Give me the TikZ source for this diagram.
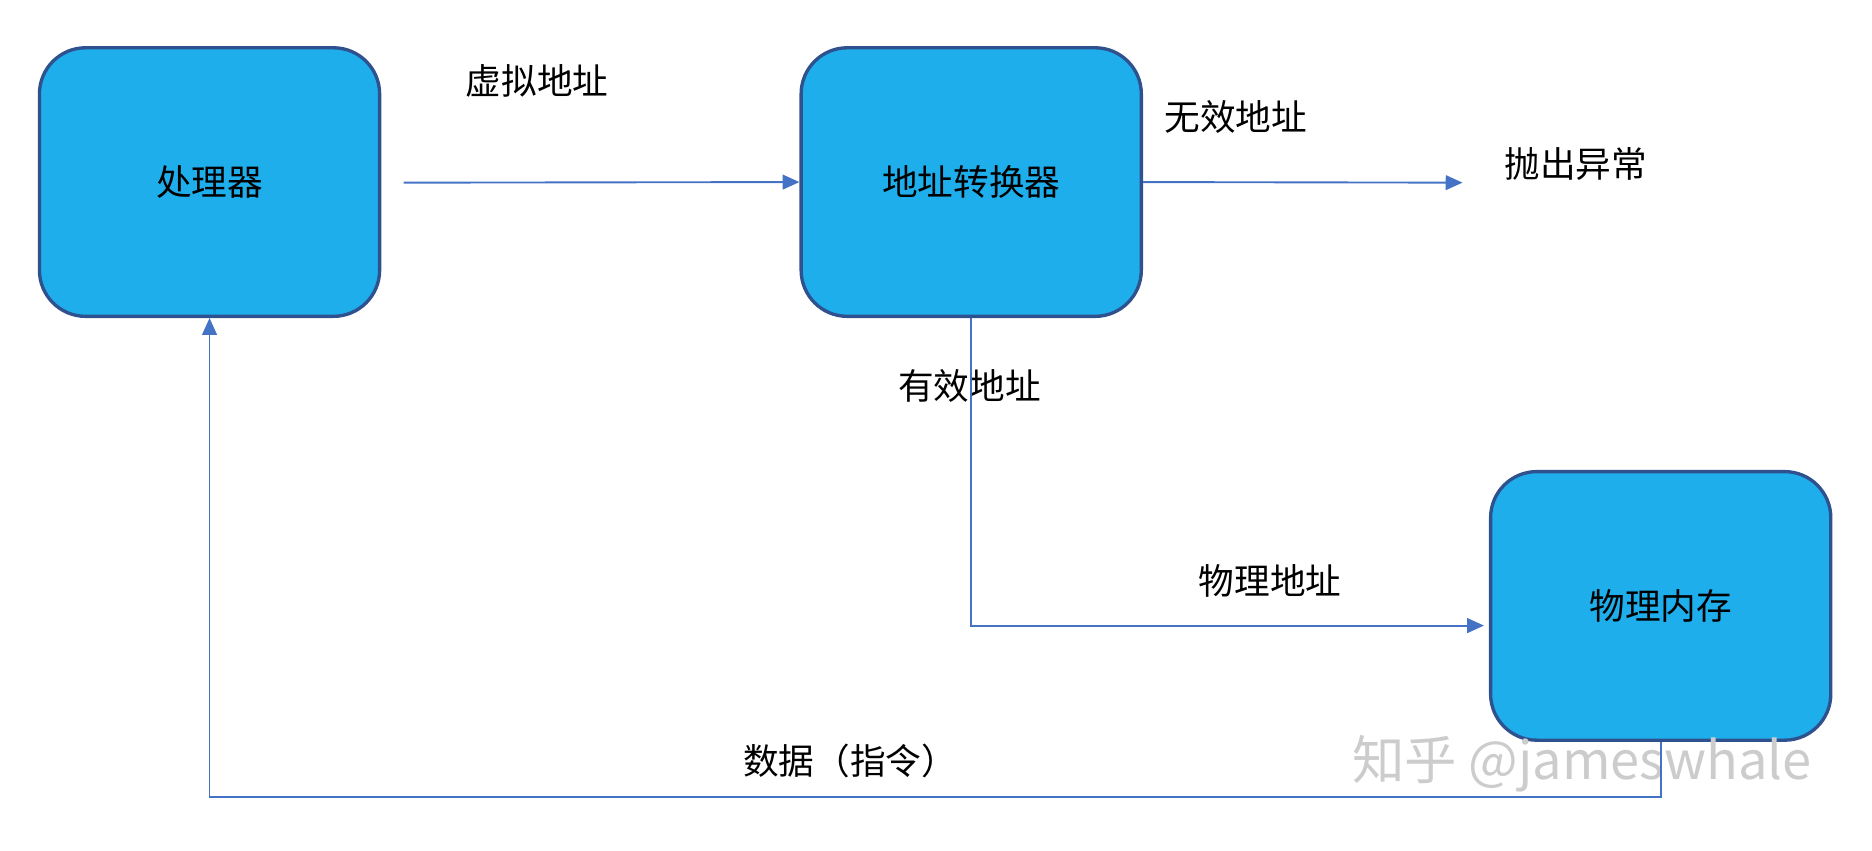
\documentclass[tikz,border=0pt]{standalone}
\usepackage{fontspec}
\setmainfont{Noto Sans CJK SC}
\usetikzlibrary{arrows.meta,positioning}
\definecolor{boxfill}{HTML}{1EAEEC}
\definecolor{boxline}{HTML}{2F528F}
\definecolor{arrowline}{HTML}{4472C4}
\tikzset{
	unit/.style={draw=boxline, line width=1.6pt, fill=boxfill, rounded corners=22pt,
		minimum width=5.7cm, minimum height=4.5cm, font=\fontsize{17}{20}\selectfont},
	flow/.style={draw=arrowline, line width=0.9pt, -{Triangle[length=8pt,width=7pt]}},
	lbl/.style={font=\fontsize{17}{20}\selectfont}
}
\begin{document}
\begin{tikzpicture}[x=0.02cm,y=-0.02cm]
	\useasboundingbox (0,0) rectangle (1568,712);
	\node[unit] (cpu) at (175.5,152.5) {处理器};
	\node[unit] (mmu) at (813.5,152.5) {地址转换器};
	\node[unit] (mem) at (1391,507.5) {物理内存};
	\coordinate (cpuout) at (338,153);
	\coordinate (fault) at (1225,153);
	\coordinate (memin) at (1243,524);
	\node[lbl] (exc) at (1320,137) {抛出异常};

	\node[lbl] at (450,68) {虚拟地址};
	\node[lbl] at (1035,98) {无效地址};
	\node[lbl] at (812,323) {有效地址};
	\node[lbl] at (1064,487) {物理地址};
	\node[lbl] at (712,637) {数据（指令）};
	\node[font=\fontsize{25}{30}\selectfont, text=gray!40] at (1325,640) {知乎 @jameswhale};

	\draw[flow] (cpuout) -- (mmu.west);
	\draw[flow] (mmu.east) -- (fault);
	\draw[flow] (mmu.south) |- (memin);
	\draw[flow] (mem.south) -- ++(0,46) -| (cpu.south);
\end{tikzpicture}
\end{document}
